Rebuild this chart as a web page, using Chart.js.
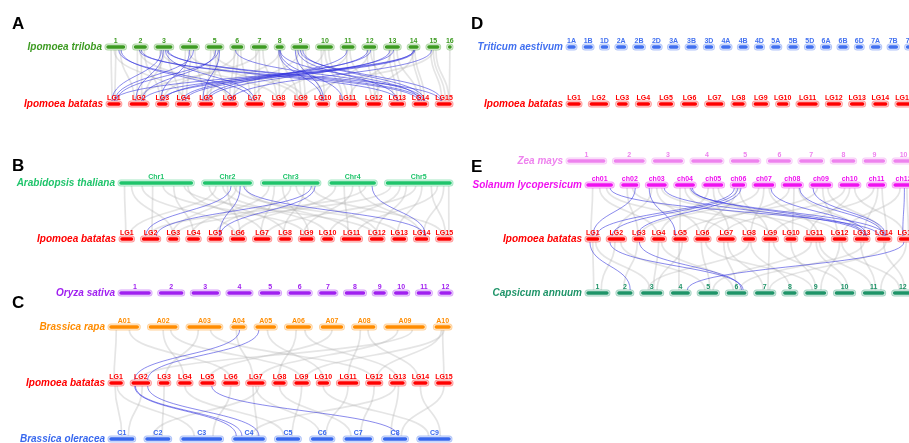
<!DOCTYPE html>
<html>
<head>
<meta charset="utf-8">
<script src="https://cdn.jsdelivr.net/npm/chart.js@4.4.1/dist/chart.umd.min.js"></script>
<style>
  html, body { margin: 0; padding: 0; background: #fff; }
  #wrap { width: 909px; height: 443px; }
</style>
</head>
<body>
<div id="wrap"><canvas id="synteny" width="909" height="443"></canvas></div>
<script>
// ========= chromosome names + lengths (Mb) =========
const trilobaChr = ['1','2','3','4','5','6','7','8','9','10','11','12','13','14','15','16'];
const trilobaLen = [48,30,42,42,39,27,36,15,39,39,30,30,36,21,27,1];

const batatasChr = ['LG1','LG2','LG3','LG4','LG5','LG6','LG7','LG8','LG9','LG10','LG11','LG12','LG13','LG14','LG15'];
const batatasLen = [30,45,22,30,32,35,42,27,33,24,51,33,33,32,36];

const arabChr = ['Chr1','Chr2','Chr3','Chr4','Chr5'];
const arabLen = [30.4,19.7,23.5,18.6,27.0];

const oryzaChr = ['1','2','3','4','5','6','7','8','9','10','11','12'];
const oryzaLen = [42,31.5,36,31.5,25.5,28.5,21,25.5,13.5,16.5,16.5,13.5];

const rapaChr = ['A01','A02','A03','A04','A05','A06','A07','A08','A09','A10'];
const rapaLen = [29,28,34,12,19,24,21,21,40,14];

const oleraceaChr = ['C1','C2','C3','C4','C5','C6','C7','C8','C9'];
const oleraceaLen = [26,26,45,34,25,23,29,25,35];

const wheatChr = ['1A','1B','1D','2A','2B','2D','3A','3B','3D','4A','4B','4D','5A','5B','5D','6A','6B','6D','7A','7B','7D'];
const wheatLen = [594,689,495,780,801,651,750,830,615,744,673,509,709,713,566,618,720,473,736,750,638];

const zeaChr = ['1','2','3','4','5','6','7','8','9','10'];
const zeaLen = [307,244,235,247,223,174,182,181,159,150];

const tomatoChr = ['ch01','ch02','ch03','ch04','ch05','ch06','ch07','ch08','ch09','ch10','ch11','ch12'];
const tomatoLen = [90.9,53.5,65.3,64.5,65.0,40,68.0,63.0,68.5,64.8,54.0,66.0];

const pepperChr = ['1','2','3','4','5','6','7','8','9','10','11','12'];
const pepperLen = [272,171,257,222,233,236,231,145,252,233,259,235];

// ========= links: [chrA, relative pos A, chrB, relative pos B] =========
const trilobaBlue = [
  ['1',.7,'LG7',.3],['1',.85,'LG6',.8],['2',.4,'LG14',.3],['2',.6,'LG13',.6],
  ['3',.3,'LG1',.3],['3',.45,'LG2',.3],['3',.6,'LG7',.5],['3',.7,'LG15',.2],['3',.8,'LG14',.6],
  ['4',.5,'LG3',.3],['4',.8,'LG1',.6],['5',.6,'LG2',.7],['5',.8,'LG1',.8],['5',.9,'LG5',.2],
  ['6',.3,'LG14',.8],['8',.3,'LG10',.4],['8',.5,'LG11',.2],['8',.6,'LG14',.4],
  ['9',.1,'LG10',.6],['9',.3,'LG13',.5],['9',.5,'LG15',.3],['9',.7,'LG14',.9],
  ['11',.4,'LG5',.5],['12',.3,'LG4',.4],['12',.6,'LG3',.7],['13',.3,'LG5',.7],['13',.6,'LG4',.7],
  ['14',.5,'LG2',.8],['14',.6,'LG1',.5],['14',.7,'LG3',.4],['15',.3,'LG6',.6]
];
const trilobaGrey = [
  ['1',.2,'LG1',.3],['1',.5,'LG1',.6],['1',.8,'LG2',.2],['2',.2,'LG2',.4],['2',.6,'LG2',.7],['2',.9,'LG3',.2],
  ['3',.2,'LG3',.5],['3',.5,'LG2',.9],['3',.8,'LG4',.1],['4',.2,'LG4',.4],['4',.6,'LG4',.8],['4',.9,'LG5',.3],
  ['5',.2,'LG5',.6],['5',.5,'LG6',.2],['5',.8,'LG5',.9],['6',.2,'LG6',.5],['6',.6,'LG6',.9],['6',.9,'LG7',.2],
  ['7',.2,'LG7',.5],['7',.5,'LG7',.8],['7',.8,'LG8',.3],['8',.3,'LG8',.6],['8',.7,'LG9',.2],
  ['9',.2,'LG9',.5],['9',.6,'LG9',.9],['9',.9,'LG10',.3],['10',.2,'LG10',.7],['10',.5,'LG11',.2],['10',.8,'LG11',.5],
  ['11',.3,'LG11',.8],['11',.7,'LG12',.3],['12',.2,'LG12',.6],['12',.6,'LG13',.2],['12',.9,'LG12',.9],
  ['13',.2,'LG13',.5],['13',.6,'LG13',.9],['13',.9,'LG14',.3],['14',.3,'LG14',.6],['14',.7,'LG14',.9],
  ['15',.2,'LG15',.3],['15',.5,'LG15',.6],['15',.8,'LG15',.9],['16',.5,'LG15',.95],
  ['1',.4,'LG4',.5],['2',.4,'LG6',.5],['3',.3,'LG8',.4],['4',.4,'LG9',.3],['6',.4,'LG3',.6],['7',.4,'LG2',.5],
  ['8',.5,'LG5',.4],['10',.4,'LG7',.4],['11',.5,'LG8',.7],['12',.4,'LG10',.5],['13',.4,'LG11',.6],
  ['14',.5,'LG12',.5],['15',.5,'LG9',.6],['9',.4,'LG6',.7],['5',.4,'LG9',.8]
];

const arabBlue = [
  ['Chr2',.58,'LG2',.15],['Chr2',.78,'LG5',.9],['Chr2',.86,'LG14',.85],
  ['Chr3',.88,'LG2',.9],['Chr3',.95,'LG5',.95],['Chr4',.95,'LG14',.9]
];
const arabGrey = [
  ['Chr1',.05,'LG1',.4],['Chr1',.15,'LG3',.5],['Chr1',.3,'LG6',.3],['Chr1',.45,'LG2',.6],['Chr1',.6,'LG9',.4],
  ['Chr1',.75,'LG4',.5],['Chr1',.9,'LG12',.3],['Chr1',.95,'LG7',.6],
  ['Chr2',.1,'LG8',.5],['Chr2',.25,'LG1',.8],['Chr2',.4,'LG10',.4],['Chr2',.5,'LG6',.7],['Chr2',.65,'LG13',.5],
  ['Chr2',.7,'LG3',.3],['Chr2',.9,'LG11',.5],
  ['Chr3',.1,'LG4',.3],['Chr3',.2,'LG7',.4],['Chr3',.35,'LG9',.7],['Chr3',.5,'LG5',.5],['Chr3',.6,'LG12',.6],
  ['Chr3',.75,'LG8',.3],['Chr3',.9,'LG15',.4],
  ['Chr4',.1,'LG6',.4],['Chr4',.3,'LG11',.3],['Chr4',.5,'LG9',.2],['Chr4',.65,'LG14',.4],['Chr4',.8,'LG2',.4],
  ['Chr5',.05,'LG3',.8],['Chr5',.2,'LG10',.7],['Chr5',.3,'LG12',.4],['Chr5',.45,'LG7',.8],['Chr5',.55,'LG13',.3],
  ['Chr5',.7,'LG15',.6],['Chr5',.8,'LG11',.8],['Chr5',.9,'LG14',.7],['Chr5',.98,'LG15',.9]
];

const rapaBlue = [['A04',.6,'LG2',.1],['A05',.1,'LG2',.95]];
const rapaGrey = [
  ['A01',.2,'LG1',.3],['A01',.7,'LG6',.5],['A02',.5,'LG4',.4],['A02',.8,'LG9',.5],['A03',.3,'LG3',.6],
  ['A03',.7,'LG12',.4],['A04',.3,'LG7',.3],['A05',.6,'LG10',.5],['A06',.4,'LG8',.4],['A06',.8,'LG13',.5],
  ['A07',.5,'LG5',.6],['A08',.3,'LG11',.5],['A08',.7,'LG14',.3],['A09',.3,'LG7',.7],['A09',.7,'LG2',.4],
  ['A10',.4,'LG12',.7],['A10',.5,'LG15',.5],['A10',.6,'LG9',.8]
];
const oleraceaBlue = [['LG2',.1,'C4',.05],['LG2',.15,'C4',.25],['LG2',.95,'C4',.85],['LG5',.9,'C8',.65]];
const oleraceaGrey = [
  ['LG1',.4,'C1',.5],['LG1',.6,'C3',.3],['LG3',.5,'C2',.7],['LG4',.5,'C5',.3],['LG6',.5,'C3',.8],
  ['LG7',.3,'C4',.8],['LG7',.5,'C6',.4],['LG7',.7,'C2',.3],['LG8',.5,'C7',.2],['LG9',.5,'C5',.7],
  ['LG10',.5,'C9',.3],['LG11',.5,'C6',.7],['LG12',.5,'C7',.6],['LG13',.3,'C4',.6],['LG13',.6,'C8',.3],
  ['LG14',.5,'C9',.7],['LG15',.5,'C8',.8],['LG2',.6,'C1',.8]
];

const tomatoBlue = [
  ['ch01',.95,'LG14',.05],['ch02',.9,'LG1',.5],['ch03',.05,'LG5',.05],['ch03',.95,'LG13',.7],
  ['ch04',.85,'LG14',.6],['ch04',.95,'LG13',.9],['ch06',.1,'LG1',.9],['ch06',.45,'LG2',.2],['ch06',.75,'LG3',.3],
  ['ch07',.9,'LG13',.95],['ch08',.95,'LG14',.45],['ch09',.05,'LG14',.7],['ch12',.55,'LG15',.2]
];
const tomatoGrey = [
  ['ch01',.2,'LG1',.3],['ch01',.5,'LG4',.4],['ch01',.8,'LG7',.5],['ch02',.3,'LG3',.4],['ch02',.7,'LG9',.6],
  ['ch03',.2,'LG2',.5],['ch03',.5,'LG6',.3],['ch03',.8,'LG11',.4],['ch04',.2,'LG5',.5],['ch04',.5,'LG8',.4],
  ['ch04',.8,'LG12',.5],['ch05',.2,'LG4',.7],['ch05',.5,'LG7',.7],['ch05',.8,'LG10',.4],['ch06',.3,'LG6',.6],
  ['ch06',.6,'LG9',.3],['ch07',.2,'LG3',.7],['ch07',.5,'LG8',.7],['ch07',.8,'LG11',.7],['ch08',.3,'LG6',.8],
  ['ch08',.6,'LG10',.7],['ch08',.9,'LG13',.4],['ch09',.3,'LG5',.8],['ch09',.6,'LG12',.3],['ch09',.9,'LG14',.4],
  ['ch10',.2,'LG7',.3],['ch10',.5,'LG11',.2],['ch10',.8,'LG15',.3],['ch11',.3,'LG9',.8],['ch11',.6,'LG13',.7],
  ['ch11',.9,'LG14',.8],['ch12',.3,'LG12',.8],['ch12',.7,'LG15',.7]
];
const pepperBlue = [['LG1',.2,'2',.95],['LG2',.05,'6',.9],['LG3',.6,'6',.8],['LG15',.3,'4',.95]];
const pepperGrey = [
  ['LG1',.5,'1',.3],['LG1',.8,'3',.4],['LG2',.4,'1',.7],['LG2',.8,'5',.3],['LG3',.3,'2',.4],['LG4',.5,'3',.6],
  ['LG4',.8,'6',.3],['LG5',.4,'4',.4],['LG5',.7,'3',.8],['LG6',.4,'5',.6],['LG6',.8,'9',.3],['LG7',.3,'6',.5],
  ['LG7',.6,'7',.4],['LG8',.5,'3',.3],['LG8',.7,'8',.5],['LG9',.4,'7',.7],['LG9',.8,'10',.4],['LG10',.5,'9',.5],
  ['LG11',.3,'5',.8],['LG11',.6,'10',.7],['LG11',.8,'11',.4],['LG12',.5,'9',.8],['LG12',.7,'12',.3],
  ['LG13',.4,'11',.6],['LG13',.7,'6',.7],['LG14',.5,'12',.6],['LG14',.7,'7',.8],['LG15',.5,'11',.9]
];

const panelLetters = ['A','B','C','D','E'];

// ========= layout (page units; x 0..909, y 0..443) =========
const rows = [
  { key:'aTri', name:'Ipomoea triloba',       chr:trilobaChr,  len:trilobaLen,  color:'#3d9b22', y:47,  x0:105, x1:453, gap:6 },
  { key:'aBat', name:'Ipomoea batatas',       chr:batatasChr,  len:batatasLen,  color:'#ff0000', y:104, x0:106, x1:453, gap:6.5 },
  { key:'bAra', name:'Arabidopsis thaliana',  chr:arabChr,     len:arabLen,     color:'#1fc46b', y:183, x0:118, x1:453, gap:7.3 },
  { key:'bBat', name:'Ipomoea batatas',       chr:batatasChr,  len:batatasLen,  color:'#ff0000', y:239, x0:119, x1:453, gap:6 },
  { key:'bOry', name:'Oryza sativa',          chr:oryzaChr,    len:oryzaLen,    color:'#a020f0', y:293, x0:118, x1:453, gap:5.6 },
  { key:'cRap', name:'Brassica rapa',         chr:rapaChr,     len:rapaLen,     color:'#ff8c00', y:327, x0:108, x1:452, gap:7.2 },
  { key:'cBat', name:'Ipomoea batatas',       chr:batatasChr,  len:batatasLen,  color:'#ff0000', y:383, x0:108, x1:453, gap:6 },
  { key:'cOle', name:'Brassica oleracea',     chr:oleraceaChr, len:oleraceaLen, color:'#3868ee', y:439, x0:108, x1:452, gap:8.3 },
  { key:'dTri', name:'Triticum aestivum',     chr:wheatChr,    len:wheatLen,    color:'#4170f0', y:47,  x0:566, x1:916, gap:5.3 },
  { key:'dBat', name:'Ipomoea batatas',       chr:batatasChr,  len:batatasLen,  color:'#ff0000', y:104, x0:566, x1:913, gap:6.3 },
  { key:'eZea', name:'Zea mays',              chr:zeaChr,      len:zeaLen,      color:'#ee82ee', y:161, x0:566, x1:915, gap:5.7 },
  { key:'eSol', name:'Solanum lycopersicum',  chr:tomatoChr,   len:tomatoLen,   color:'#f010f0', y:185, x0:585, x1:915, gap:5.7 },
  { key:'eBat', name:'Ipomoea batatas',       chr:batatasChr,  len:batatasLen,  color:'#ff0000', y:239, x0:585, x1:915, gap:5.6 },
  { key:'eCap', name:'Capsicum annuum',       chr:pepperChr,   len:pepperLen,   color:'#1e9468', y:293, x0:585, x1:914, gap:6 }
];

const linkSets = [
  { from:'aTri', to:'aBat', grey:trilobaGrey,  blue:trilobaBlue },
  { from:'bAra', to:'bBat', grey:arabGrey,     blue:arabBlue },
  { from:'cRap', to:'cBat', grey:rapaGrey,     blue:rapaBlue },
  { from:'cBat', to:'cOle', grey:oleraceaGrey, blue:oleraceaBlue },
  { from:'eSol', to:'eBat', grey:tomatoGrey,   blue:tomatoBlue },
  { from:'eBat', to:'eCap', grey:pepperGrey,   blue:pepperBlue }
];

const letterPos = [[12,24],[12,166],[12,303],[471,24],[471,167]];

const CAP = 3; // round cap overhang of the halo

function rgba(hex, a) {
  const n = parseInt(hex.slice(1), 16);
  return `rgba(${(n >> 16) & 255},${(n >> 8) & 255},${n & 255},${a})`;
}

// place chromosomes along each row
const rowByKey = {};
rows.forEach(r => {
  const sum = r.len.reduce((a, b) => a + b, 0);
  const step = r.gap + 2 * CAP;
  const k = (r.x1 - r.x0 - 2 * CAP - step * (r.len.length - 1)) / sum;
  let x = r.x0 + CAP;
  r.spans = r.len.map(l => {
    const s = x, e = x + l * k;
    x = e + step;
    return [s, e];
  });
  r.index = {};
  r.chr.forEach((c, i) => r.index[c] = i);
  rowByKey[r.key] = r;
});

function rowPoints(r) {
  const pts = [];
  r.spans.forEach(([s, e], i) => {
    if (i) pts.push({ x: s - 1, y: null }); // break between chromosomes
    pts.push({ x: s, y: r.y }, { x: e, y: r.y });
  });
  return pts;
}

const datasets = [];
rows.forEach(r => {
  const data = rowPoints(r);
  const base = { type: 'line', data, pointRadius: 0, borderCapStyle: 'round', spanGaps: false, fill: false };
  datasets.push({ ...base, borderColor: rgba(r.color, 0.4), borderWidth: 7, order: 3 });
  datasets.push({ ...base, borderColor: 'rgba(255,255,255,0.6)', borderWidth: 5, order: 2 });
  datasets.push({ ...base, borderColor: r.color, borderWidth: 3.5, order: 1 });
});

function linkPos(r, name, frac) {
  const [s, e] = r.spans[r.index[name]];
  return s + frac * (e - s);
}

// ====== links drawn under the chromosomes ======
const linkPlugin = {
  id: 'links',
  beforeDatasetsDraw(chart) {
    const { ctx, scales: { x, y } } = chart;
    ctx.save();
    const drawSet = (set, list, color, width) => {
      const a = rowByKey[set.from], b = rowByKey[set.to];
      ctx.strokeStyle = color;
      ctx.lineWidth = width;
      list.forEach(([ca, fa, cb, fb]) => {
        const x1 = x.getPixelForValue(linkPos(a, ca, fa));
        const y1 = y.getPixelForValue(a.y) + 3;
        const x2 = x.getPixelForValue(linkPos(b, cb, fb));
        const y2 = y.getPixelForValue(b.y) - 3;
        const my = (y1 + y2) / 2;
        ctx.beginPath();
        ctx.moveTo(x1, y1);
        ctx.bezierCurveTo(x1, my, x2, my, x2, y2);
        ctx.stroke();
      });
    };
    linkSets.forEach(s => drawSet(s, s.grey, 'rgba(175,175,175,0.32)', 1.7));
    linkSets.forEach(s => drawSet(s, s.blue, 'rgba(45,45,220,0.7)', 0.8));
    ctx.restore();
  }
};

// ====== species names, chromosome names, panel letters ======
const textPlugin = {
  id: 'texts',
  afterDatasetsDraw(chart) {
    const { ctx, scales: { x, y } } = chart;
    ctx.save();
    rows.forEach(r => {
      const py = y.getPixelForValue(r.y);
      ctx.fillStyle = r.color;
      ctx.font = 'italic bold 10px "Liberation Sans", Arial, sans-serif';
      ctx.textAlign = 'right';
      ctx.textBaseline = 'middle';
      ctx.fillText(r.name, x.getPixelForValue(r.x0) - 3, py);
      ctx.font = 'bold 7px "Liberation Sans", Arial, sans-serif';
      ctx.textAlign = 'center';
      ctx.textBaseline = 'alphabetic';
      r.spans.forEach(([s, e], i) => {
        ctx.fillText(r.chr[i], x.getPixelForValue((s + e) / 2), py - 4);
      });
    });
    ctx.fillStyle = '#000';
    ctx.font = 'bold 17px "Liberation Sans", Arial, sans-serif';
    ctx.textAlign = 'left';
    ctx.textBaseline = 'middle';
    panelLetters.forEach((t, i) => {
      ctx.fillText(t, x.getPixelForValue(letterPos[i][0]), y.getPixelForValue(letterPos[i][1]));
    });
    ctx.restore();
  }
};

new Chart(document.getElementById('synteny'), {
  type: 'line',
  data: { datasets },
  options: {
    responsive: false,
    animation: false,
    devicePixelRatio: 1,
    events: [],
    layout: { padding: 0 },
    plugins: { legend: { display: false }, tooltip: { enabled: false } },
    scales: {
      x: { type: 'linear', min: 0, max: 909, display: false },
      y: { type: 'linear', min: 0, max: 443, reverse: true, display: false }
    }
  },
  plugins: [linkPlugin, textPlugin]
});
</script>
</body>
</html>
